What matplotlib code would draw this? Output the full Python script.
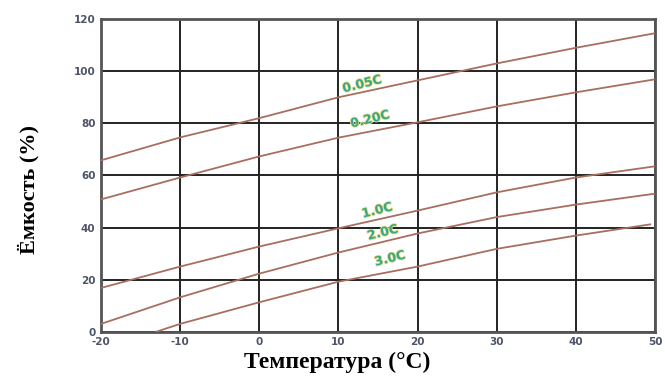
import matplotlib.pyplot as plt
import matplotlib.patheffects as pe
import numpy as np

plt.rcParams['axes.unicode_minus'] = False

# Temperature points (°C) and capacity (%)
temps = [-20, -10, 0, 10, 20, 30, 40, 50]
cap_005 = [65.8, 74.6, 82.0, 90.0, 96.5, 103.0, 109.0, 114.6]
cap_020 = [50.8, 59.2, 67.3, 74.5, 80.4, 86.5, 91.9, 96.9]
cap_10 = [16.8, 25.0, 32.7, 39.7, 46.5, 53.5, 59.2, 63.5]
cap_20 = [3.0, 13.2, 22.3, 30.4, 37.7, 44.0, 48.8, 53.0]
temps_30 = [-13.0, -10, 0, 10, 20, 30, 40, 49.4]
cap_30 = [0.0, 3.0, 11.3, 19.2, 25.0, 31.8, 36.9, 41.2]

labels = ['0.05C', '0.20C', '1.0C', '2.0C', '3.0C']
label_x = [13.0, 14.0, 14.9, 15.6, 16.5]
label_y = [95.0, 81.5, 46.5, 38.0, 28.0]

line_color = '#a86e5e'
text_color = '#3aa888'
tick_color = '#4e5468'

fig = plt.figure(figsize=(6.65, 3.83), dpi=100)
ax = fig.add_axes([0.152, 0.134, 0.833, 0.816])

for xs, ys in [(temps, cap_005), (temps, cap_020), (temps, cap_10),
               (temps, cap_20), (temps_30, cap_30)]:
    ax.plot(xs, ys, color=line_color, linewidth=1.3, zorder=3)

for lab, lx, ly in zip(labels, label_x, label_y):
    ax.text(lx, ly, lab, color=text_color, fontsize=9, fontweight='semibold',
            rotation=14, ha='center', va='center', zorder=4,
            path_effects=[pe.withStroke(linewidth=1.2, foreground='#e8e090')])

ax.set_xlim(-20, 50)
ax.set_ylim(0, 120)
ax.set_xticks(np.arange(-20, 51, 10))
ax.set_yticks(np.arange(0, 121, 20))
ax.grid(True, color='#222222', linewidth=1.4, zorder=1)
ax.set_axisbelow(True)
for s in ax.spines.values():
    s.set_color('#555555')
    s.set_linewidth(2)

ax.tick_params(length=0, pad=4, labelsize=7.5, labelcolor=tick_color)
for t in ax.get_xticklabels() + ax.get_yticklabels():
    t.set_fontweight('bold')

# axis titles placed where they sit in the original image
fig.text(337 / 665, 1 - 362 / 383, 'Температура (°C)', fontsize=17,
         fontweight='bold', family='Liberation Serif', ha='center', va='center')
fig.text(29 / 665, 1 - 189 / 383, 'Ёмкость (%)', fontsize=16,
         fontweight='bold', family='Liberation Serif', ha='center', va='center',
         rotation=90)

fig.savefig('out.png', dpi=100)
